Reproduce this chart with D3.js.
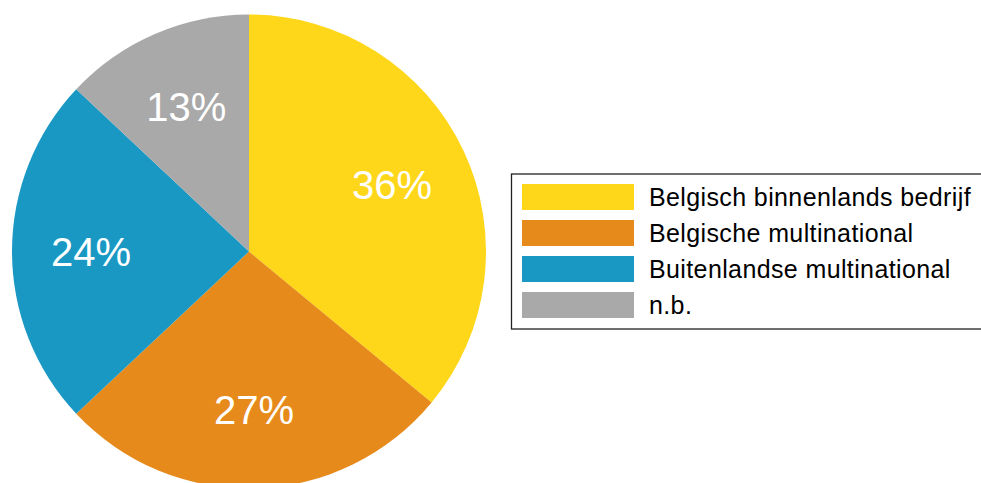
<!DOCTYPE html>
<html><head><meta charset="utf-8">
<script src="https://cdn.jsdelivr.net/npm/d3@7"></script>
<style>html,body{margin:0;padding:0;background:#fff;overflow:hidden}</style>
</head><body>
<svg id="chart" width="981" height="483"></svg>
<script>
const categories = ["Belgisch binnenlands bedrijf", "Belgische multinational", "Buitenlandse multinational", "n.b."];
const values = [36, 27, 24, 13];
const colors = ["#FED71A", "#E68B1B", "#1A98C4", "#A9A9A9"];

const svg = d3.select("#chart");
const cx = 249, cy = 251.5, r = 237, labelR = 158;
const data = categories.map((c, i) => ({name: c, value: values[i], color: colors[i]}));
const pie = d3.pie().value(d => d.value).sort(null);
const arcs = pie(data);
const arc = d3.arc().innerRadius(0).outerRadius(r);
const labelArc = d3.arc().innerRadius(labelR).outerRadius(labelR);
const g = svg.append("g").attr("transform", `translate(${cx},${cy})`);
g.selectAll("path").data(arcs).join("path")
  .attr("d", arc).attr("fill", d => d.data.color);
g.selectAll("text").data(arcs).join("text")
  .attr("transform", d => `translate(${labelArc.centroid(d)})`)
  .attr("text-anchor", "middle").attr("dy", "0.36em")
  .attr("font-family", "Liberation Sans, Arial, sans-serif")
  .attr("font-size", 40).attr("fill", "#fff")
  .text(d => d.data.value + "%");

// legend
const lg = svg.append("g");
lg.append("rect").attr("x", 511.5).attr("y", 174).attr("width", 475).attr("height", 155)
  .attr("fill", "#fff").attr("stroke", "#222").attr("stroke-width", 1.3);
const ly = d3.scaleBand().domain(categories).range([184, 318]).paddingInner(10/36).paddingOuter(0);
const items = lg.selectAll("g.item").data(data).join("g").attr("class", "item");
items.append("rect").attr("x", 522).attr("y", d => ly(d.name)).attr("width", 112).attr("height", ly.bandwidth())
  .attr("fill", d => d.color);
items.append("text").attr("x", 649).attr("y", d => ly(d.name) + ly.bandwidth()/2).attr("dy", "0.36em")
  .attr("font-family", "Liberation Sans, Arial, sans-serif").attr("font-size", 25)
  .attr("letter-spacing", "0.38px").attr("fill", "#000")
  .text(d => d.name);
</script>
</body></html>
